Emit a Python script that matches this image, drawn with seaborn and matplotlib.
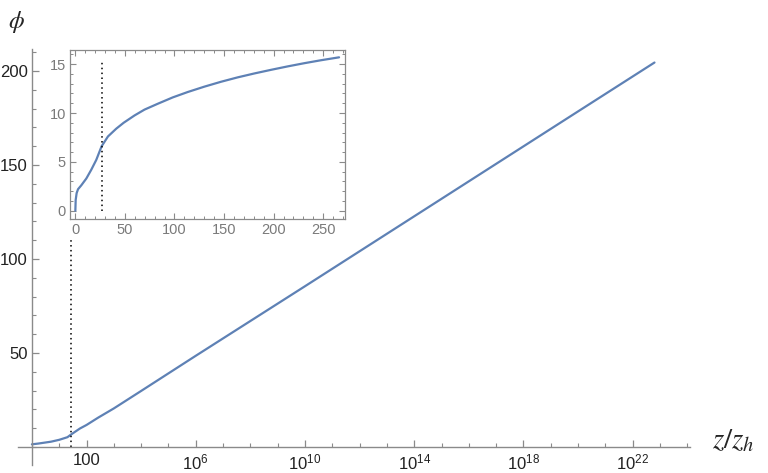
import numpy as np
import pandas as pd
import matplotlib
matplotlib.use("Agg")
import matplotlib.pyplot as plt
import seaborn as sns
from matplotlib.ticker import FuncFormatter, MultipleLocator

sns.set_style("white")
plt.rcParams['font.family'] = ['Liberation Sans', 'DejaVu Sans']
plt.rcParams['mathtext.fontset'] = 'custom'
plt.rcParams['mathtext.rm'] = 'Liberation Sans'
plt.rcParams['mathtext.it'] = 'Liberation Sans:italic'

# main curve
z_main = [1, 1.7, 5, 10, 20, 27, 57, 100, 267, 1e3, 1e4, 1e6, 1e10, 1e15, 1e20, 6.3e22]
phi_main = [1.4, 1.8, 2.8, 3.8, 5.2, 6.6, 9.8, 11.7, 15.6, 20.5, 29.8, 48.5, 85.5, 132, 178.5, 204.5]

# inset curve (linear z)
z_in = [0, 0.33, 1.3, 2.7, 6.0, 11.1, 16.1, 21.1, 26.5, 32.9, 41.3, 48.7, 59.7, 69.8,
        83.2, 98.3, 113.4, 130.2, 147, 163.8, 180.6, 197.4, 214.1, 231, 247.7, 266]
phi_in = [0, 1.1, 1.8, 2.2, 2.6, 3.3, 4.2, 5.2, 6.6, 7.6, 8.4, 9.0, 9.75, 10.35,
          10.95, 11.6, 12.15, 12.7, 13.2, 13.65, 14.05, 14.42, 14.77, 15.1, 15.4, 15.7]

# dotted marker line
z_mark = 26
main_mark_top = 111
inset_mark_top = 15.2

main_xticks = [1e2, 1e6, 1e10, 1e14, 1e18, 1e22]

blue = '#5E81B5'
axcol = '#8a8a8a'

df_main = pd.DataFrame({'z': z_main, 'phi': phi_main})
df_in = pd.DataFrame({'z': z_in, 'phi': phi_in})

fig = plt.figure(figsize=(7.68, 4.73), dpi=100)
ax = fig.add_axes([18/768, 1-465/473, (690-18)/768, (465-49)/473])

sns.lineplot(data=df_main, x='z', y='phi', ax=ax, color=blue, lw=1.6, sort=False, estimator=None)
ax.plot([z_mark, z_mark], [0, main_mark_top], color='black', lw=1.1, linestyle=(0, (1, 2.2)))

ax.set_xscale('log')
ax.set_xlim(10**-0.51, 10**24.1)
ax.set_ylim(-9.6, 211.7)
ax.spines['top'].set_visible(False)
ax.spines['right'].set_visible(False)
ax.spines['bottom'].set_position(('data', 0))
ax.spines['left'].set_position(('data', 1))
for s in ['bottom', 'left']:
    ax.spines[s].set_color(axcol)
    ax.spines[s].set_linewidth(1.0)

ax.set_xticks(main_xticks)
ax.set_xticks([10.0**k for k in range(0, 25)], minor=True)
def fmt(v, pos):
    e = int(round(np.log10(v)))
    return '100' if e == 2 else r'$10^{%d}$' % e
ax.xaxis.set_major_formatter(FuncFormatter(fmt))
ax.xaxis.set_minor_formatter(FuncFormatter(lambda v, p: ''))
ax.yaxis.set_major_locator(MultipleLocator(50))
ax.yaxis.set_minor_locator(MultipleLocator(10))
ax.set_yticks([50, 100, 150, 200])
ax.tick_params(which='both', direction='in', bottom=True, left=True, color=axcol,
               labelcolor='#222222', labelsize=12)
ax.tick_params(which='major', length=5, width=0.9)
ax.tick_params(which='minor', length=3, width=0.8)
ax.tick_params(axis='x', pad=4)
ax.tick_params(axis='y', pad=3)
ax.set_xlabel('')
ax.set_ylabel('')
ax.patch.set_alpha(0)

fig.text(16/768, 1-22/473, r'$\phi$', fontsize=18, ha='center', va='center', math_fontfamily='stix')
fig.text(733/768, 1-440/473, r'$z/z_h$', fontsize=21, ha='center', va='center', math_fontfamily='stix')

# inset
axi = fig.add_axes([70/768, 1-219/473, 275/768, 169/473])
sns.lineplot(data=df_in, x='z', y='phi', ax=axi, color=blue, lw=1.6, sort=False, estimator=None)
axi.plot([z_mark + 1, z_mark + 1], [0, inset_mark_top], color='black', lw=1.1, linestyle=(0, (1, 2.2)))
axi.set_xlim(-5.4, 272)
axi.set_ylim(-0.85, 16.45)
axi.xaxis.set_major_locator(MultipleLocator(50))
axi.xaxis.set_minor_locator(MultipleLocator(10))
axi.yaxis.set_major_locator(MultipleLocator(5))
axi.yaxis.set_minor_locator(MultipleLocator(1))
axi.tick_params(which='both', direction='in', bottom=True, left=True, top=True, right=True,
                color=axcol, labelcolor='#7a7a7a', labelsize=10.5, pad=3)
axi.tick_params(which='major', length=4, width=0.8)
axi.tick_params(which='minor', length=2, width=0.7)
for s in axi.spines.values():
    s.set_color(axcol)
    s.set_linewidth(0.9)
axi.set_xlabel('')
axi.set_ylabel('')
axi.set_facecolor('white')

fig.savefig('out.png', dpi=100)
